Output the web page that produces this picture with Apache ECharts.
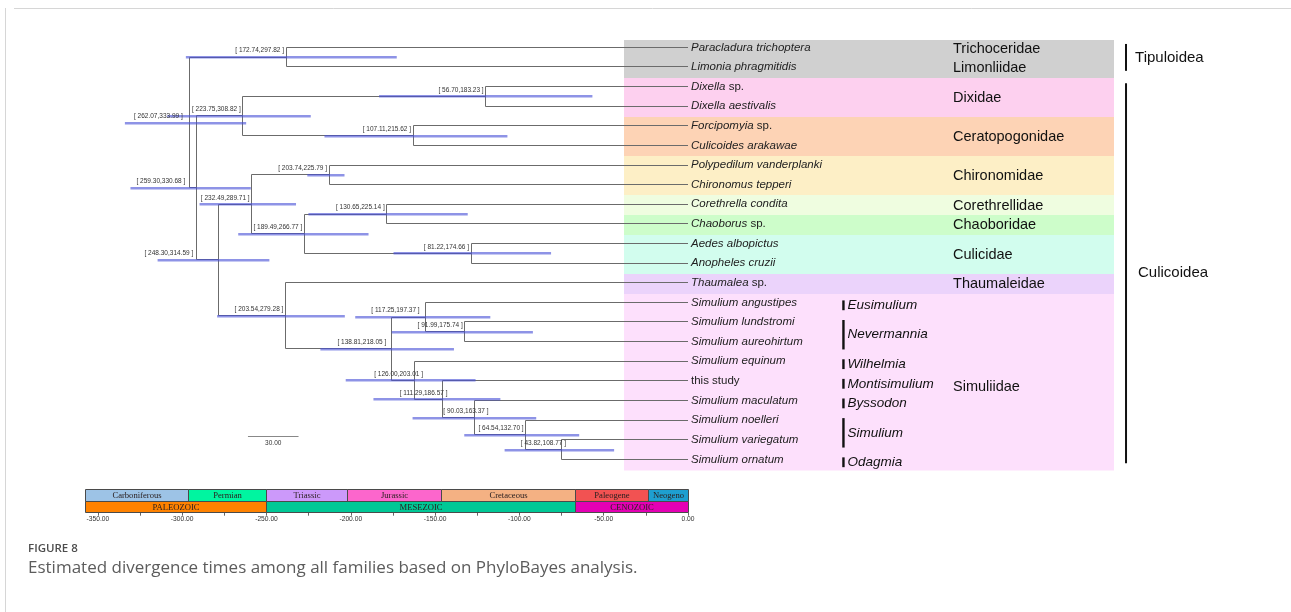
<!DOCTYPE html>
<html>
<head>
<meta charset="utf-8">
<title>Estimated divergence times</title>
<script src="https://cdn.jsdelivr.net/npm/echarts@6.0.0/dist/echarts.min.js"></script>
<style>
html,body{margin:0;padding:0;background:#fff;}
#chart{width:1291px;height:612px;}
</style>
</head>
<body>
<div id="chart"></div>
<script>
// ======================= DATA =======================
// Tips (top to bottom): italic part + plain part
const tipItalic = ['Paracladura trichoptera','Limonia phragmitidis','Dixella','Dixella aestivalis','Forcipomyia',
  'Culicoides arakawae','Polypedilum vanderplanki','Chironomus tepperi','Corethrella condita','Chaoborus',
  'Aedes albopictus','Anopheles cruzii','Thaumalea','Simulium angustipes','Simulium lundstromi',
  'Simulium aureohirtum','Simulium equinum','','Simulium maculatum','Simulium noelleri',
  'Simulium variegatum','Simulium ornatum'];
const tipPlain = ['','',' sp.','',' sp.','','','','',' sp.','','',' sp.','','','','','this study','','','',''];

// Internal nodes: id, mean age (Ma), 95% HPD interval, children
const nodeIds      = ['root','n1','n6','n3','n5','n4','n12','n8','n7','n10','n9','n11','n13','n16','n14','n15','n17','n18','n19','n20','n21'];
const nodeAge      = [295.8, 238.4, 291.4, 264.1, 120.0, 163.1, 278.6, 258.8, 212.9, 227.6, 178.7, 128.7, 238.8, 176.0, 155.6, 132.4, 162.1, 145.5, 126.5, 96.3, 74.9];
const nodeHpdLow   = [262.07,172.74,259.30,223.75,56.70,107.11,248.30,232.49,203.74,189.49,130.65,81.22,203.54,138.81,117.25,91.99,126.00,111.29,90.03,64.54,43.82];
const nodeHpdHigh  = [333.99,297.82,330.68,308.82,183.23,215.62,314.59,289.71,225.79,266.77,225.14,174.66,279.28,218.05,197.37,175.74,203.01,186.57,163.37,132.70,108.77];
const nodeChildren = [['n1','n6'],['t0','t1'],['n3','n12'],['n5','n4'],['t2','t3'],['t4','t5'],['n8','n13'],['n7','n10'],
  ['t6','t7'],['n9','n11'],['t8','t9'],['t10','t11'],['t12','n16'],['n14','n17'],['t13','n15'],['t14','t15'],
  ['t16','n18'],['t17','n19'],['t18','n20'],['t19','n21'],['t20','t21']];

// Families (tip ranges)
const familyNames = ['Trichoceridae','Limonliidae','Dixidae','Ceratopogonidae','Chironomidae','Corethrellidae','Chaoboridae','Culicidae','Thaumaleidae','Simuliidae'];
const familyFirst = [0,1,2,4,6,8,9,10,12,13];
const familyLast  = [0,1,3,5,7,8,9,11,12,21];

// Subgenera of Simulium (tip ranges)
const subgenusNames = ['Eusimulium','Nevermannia','Wilhelmia','Montisimulium','Byssodon','Simulium','Odagmia'];
const subgenusFirst = [13,14,16,17,18,19,21];
const subgenusLast  = [13,15,16,17,18,20,21];

// Superfamilies (tip ranges)
const superNames = ['Tipuloidea','Culicoidea'];
const superFirst = [0,2];
const superLast  = [1,21];

// Geological time scale (Ma, negative = before present)
const periodNames = ['Carboniferous','Permian','Triassic','Jurassic','Cretaceous','Paleogene','Neogeno'];
const periodStart = [-357.5,-296.5,-250,-202,-146.5,-66.5,-23.5];
const periodEnd   = [-296.5,-250,-202,-146.5,-66.5,-23.5,0];
const eraNames  = ['PALEOZOIC','MESEZOIC','CENOZOIC'];
const eraStart  = [-357.5,-250,-66.5];
const eraEnd    = [-250,-66.5,0];
const timeLabelValues = [-350,-300,-250,-200,-150,-100,-50,0];
const timeTickValues  = [-350,-325,-300,-275,-250,-225,-200,-175,-150,-125,-100,-75,-50,-25,0];
const scaleBarLength = 30;

// ======================= STYLE / LAYOUT =======================
const STYLE = {
  branch: '#6b6b6b',
  hpd: 'rgba(72,80,215,0.62)',
  familyColors: ['#d0d0d0','#d0d0d0','#fdd0ef','#fdd3b5','#fdefc6','#effde0','#cdfdca','#d2fdee','#ebd3fb','#fde0fc'],
  periodColors: ['#9dc3e6','#00f5a0','#cc99fa','#fc66cc','#f4b183','#f25252','#1e9fd0'],
  eraColors: ['#ff8200','#00c896','#e400b4']
};
const LAYOUT = {
  xMin: -400, xMax: 355, rowMin: -2, rowMax: 22,
  grid: {left: 13.6, right: 4.47, top: 8.06, bottom: 133.06},
  scaleGrid: {top: 489.3, height: 23.4},
  bandX: [-38, 252.7], bandTopPad: 0.37, bandBottomPad: 0.55,
  tipLabelDx: 3,
  familyLabelX: 157.2, familyLabelDy: 0.08, familyLabelNudge: {Simuliidae: 0.25},
  subgenusBarX: 92.2, subgenusPad: [0.1, 0.4],
  superBarX: 259.8, superPad: [0.17, 0.2], superTextDx: [9, 12],
  nodeLabelDx: -2, nodeLabelDy: -6.5,
  nodeLabelNudge: {root: -4.5, n6: -9.4, n12: -23, n14: -4, n16: -3, n17: 10.3, n18: 6.8, n19: 15.8, n21: 6.3},
  scaleBar: {x: -261, row: 19.85}
};

// ======================= BUILD =======================
const nodeIndex = {};
nodeIds.forEach((id, i) => nodeIndex[id] = i);
function posOf(ref) {
  if (ref[0] === 't') { const i = +ref.slice(1); return [0, i]; }
  const k = nodeIndex[ref];
  const a = posOf(nodeChildren[k][0]), b = posOf(nodeChildren[k][1]);
  return [-nodeAge[k], (a[1] + b[1]) / 2];
}
const treeData = nodeIds.map((id, k) => {
  const p = posOf(id), a = posOf(nodeChildren[k][0]), b = posOf(nodeChildren[k][1]);
  return [p[0], p[1], a[0], a[1], b[0], b[1]];
});
const hpdData = nodeIds.map((id, k) => [-nodeHpdHigh[k], -nodeHpdLow[k], posOf(id)[1]]);
const nodeLabelData = nodeIds.map((id, k) => [-nodeAge[k], posOf(id)[1],
  '[ ' + nodeHpdLow[k].toFixed(2) + ',' + nodeHpdHigh[k].toFixed(2) + ' ]', LAYOUT.nodeLabelNudge[id] || 0]);

// family bands
const bandData = [];
let prevEnd = null;
familyNames.forEach((f, i) => {
  const y0 = prevEnd === null ? familyFirst[i] - LAYOUT.bandTopPad : prevEnd;
  const y1 = familyLast[i] + LAYOUT.bandBottomPad;
  bandData.push([LAYOUT.bandX[0], LAYOUT.bandX[1], y0, y1, i]);
  prevEnd = y1;
});

function crisp(v) { return Math.round(v - 0.5) + 0.5; }

const textStyle = (o) => Object.assign({
  fill: '#222', fontFamily: 'Liberation Sans, Arial, sans-serif', fontSize: 12,
  align: 'left', verticalAlign: 'middle', textAlign: 'left', textVerticalAlign: 'middle'
}, o);

const chart = echarts.init(document.getElementById('chart'), null, {renderer: 'canvas'});

const option = {
  animation: false,
  backgroundColor: '#ffffff',
  title: [
    {text: 'FIGURE 8', left: 28, top: 543, padding: 0,
     textStyle: {fontSize: 11.5, fontWeight: 600, color: '#4d4d4d', fontFamily: 'Open Sans'}},
    {text: 'Estimated divergence times among all families based on PhyloBayes analysis.', left: 28, top: 560, padding: 0,
     textStyle: {fontSize: 17, fontWeight: 'normal', color: '#5c5c5c', fontFamily: 'Open Sans'}}
  ],
  graphic: [
    {type: 'line', shape: {x1: 14, y1: 8.5, x2: 1291, y2: 8.5}, style: {stroke: '#d6d6d6', lineWidth: 1}},
    {type: 'line', shape: {x1: 5.5, y1: 8, x2: 5.5, y2: 612}, style: {stroke: '#d6d6d6', lineWidth: 1}}
  ],
  grid: [
    {left: LAYOUT.grid.left, right: LAYOUT.grid.right, top: LAYOUT.grid.top, bottom: LAYOUT.grid.bottom},
    {left: LAYOUT.grid.left, right: LAYOUT.grid.right, top: LAYOUT.scaleGrid.top, height: LAYOUT.scaleGrid.height}
  ],
  xAxis: [
    {gridIndex: 0, type: 'value', min: LAYOUT.xMin, max: LAYOUT.xMax, show: false},
    {gridIndex: 1, type: 'value', min: LAYOUT.xMin, max: LAYOUT.xMax, position: 'bottom',
     axisLine: {show: false}, splitLine: {show: false},
     axisTick: {show: true, customValues: timeTickValues, length: 3, lineStyle: {color: '#666', width: 1}},
     axisLabel: {show: true, customValues: timeLabelValues, margin: 3, fontSize: 6.7, color: '#333',
       fontFamily: 'Liberation Sans, Arial, sans-serif', formatter: v => Number(v).toFixed(2)}}
  ],
  yAxis: [
    {gridIndex: 0, type: 'value', min: LAYOUT.rowMin, max: LAYOUT.rowMax, inverse: true, show: false},
    {gridIndex: 1, type: 'value', min: 0, max: 2, show: false}
  ],
  series: [
    // family colour bands
    {type: 'custom', xAxisIndex: 0, yAxisIndex: 0, z: 1, silent: true, clip: false,
     data: bandData,
     renderItem: (params, api) => {
       const a = api.coord([api.value(0), api.value(2)]), b = api.coord([api.value(1), api.value(3)]);
       return {type: 'rect', shape: {x: Math.round(a[0]), y: Math.round(a[1]), width: Math.round(b[0]) - Math.round(a[0]), height: Math.round(b[1]) - Math.round(a[1]) + 0.5},
         style: {fill: STYLE.familyColors[api.value(4)]}};
     }},
    // tree branches
    {type: 'custom', xAxisIndex: 0, yAxisIndex: 0, z: 3, silent: true, clip: false,
     data: treeData,
     renderItem: (params, api) => {
       const p = api.coord([api.value(0), api.value(1)]);
       const a = api.coord([api.value(2), api.value(3)]);
       const b = api.coord([api.value(4), api.value(5)]);
       const st = {stroke: STYLE.branch, lineWidth: 1};
       const x = crisp(p[0]);
       return {type: 'group', children: [
         {type: 'line', shape: {x1: x, y1: crisp(a[1]), x2: x, y2: crisp(b[1])}, style: st},
         {type: 'line', shape: {x1: x, y1: crisp(a[1]), x2: a[0], y2: crisp(a[1])}, style: st},
         {type: 'line', shape: {x1: x, y1: crisp(b[1]), x2: b[0], y2: crisp(b[1])}, style: st}
       ]};
     }},
    // HPD bars
    {type: 'custom', xAxisIndex: 0, yAxisIndex: 0, z: 4, silent: true, clip: false,
     data: hpdData,
     renderItem: (params, api) => {
       const a = api.coord([api.value(0), api.value(2)]), b = api.coord([api.value(1), api.value(2)]);
       return {type: 'rect', shape: {x: a[0], y: Math.round(a[1]) - 1, width: b[0] - a[0], height: 2.6},
         style: {fill: STYLE.hpd}};
     }},
    // node HPD labels
    {type: 'custom', xAxisIndex: 0, yAxisIndex: 0, z: 5, silent: true, clip: false,
     data: nodeLabelData,
     renderItem: (params, api) => {
       const d = nodeLabelData[params.dataIndex];
       const p = api.coord([d[0], d[1]]);
       return {type: 'text', x: p[0] + LAYOUT.nodeLabelDx + d[3], y: p[1] + LAYOUT.nodeLabelDy,
         style: textStyle({text: d[2], fontSize: 6.5, fill: '#333', align: 'right', textAlign: 'right'})};
     }},
    // tip labels
    {type: 'custom', xAxisIndex: 0, yAxisIndex: 0, z: 5, silent: true, clip: false,
     data: tipItalic.map((t, i) => [0, i]),
     renderItem: (params, api) => {
       const i = params.dataIndex;
       const p = api.coord([api.value(0), api.value(1)]);
       let txt = '';
       if (tipItalic[i]) txt += '{i|' + tipItalic[i] + '}';
       if (tipPlain[i]) txt += '{n|' + tipPlain[i] + '}';
       return {type: 'text', x: p[0] + LAYOUT.tipLabelDx, y: p[1],
         style: textStyle({text: txt, fontSize: 11.5, fill: '#222',
           rich: {i: {fontStyle: 'italic', fontSize: 11.5, fill: '#222', color: '#222', fontFamily: 'Liberation Sans, Arial, sans-serif'},
                  n: {fontStyle: 'normal', fontSize: 11.5, fill: '#222', color: '#222', fontFamily: 'Liberation Sans, Arial, sans-serif'}}})};
     }},
    // family labels
    {type: 'custom', xAxisIndex: 0, yAxisIndex: 0, z: 5, silent: true, clip: false,
     data: familyNames.map((f, i) => [LAYOUT.familyLabelX,
       (familyFirst[i] + familyLast[i]) / 2 + LAYOUT.familyLabelDy + (LAYOUT.familyLabelNudge[f] || 0)]),
     renderItem: (params, api) => {
       const p = api.coord([api.value(0), api.value(1)]);
       return {type: 'text', x: p[0], y: p[1],
         style: textStyle({text: familyNames[params.dataIndex], fontSize: 14.5, fill: '#111'})};
     }},
    // subgenus bars and labels
    {type: 'custom', xAxisIndex: 0, yAxisIndex: 0, z: 5, silent: true, clip: false,
     data: subgenusNames.map((s, i) => [LAYOUT.subgenusBarX, subgenusFirst[i] - LAYOUT.subgenusPad[0], subgenusLast[i] + LAYOUT.subgenusPad[1]]),
     renderItem: (params, api) => {
       const a = api.coord([api.value(0), api.value(1)]), b = api.coord([api.value(0), api.value(2)]);
       return {type: 'group', children: [
         {type: 'rect', shape: {x: a[0] - 1.2, y: a[1], width: 2.4, height: b[1] - a[1]}, style: {fill: '#111'}},
         {type: 'text', x: a[0] + 4, y: (a[1] + b[1]) / 2,
          style: textStyle({text: subgenusNames[params.dataIndex], fontSize: 13.5, fontStyle: 'italic', fill: '#111'})}
       ]};
     }},
    // superfamily bars and labels
    {type: 'custom', xAxisIndex: 0, yAxisIndex: 0, z: 5, silent: true, clip: false,
     data: superNames.map((s, i) => [LAYOUT.superBarX, superFirst[i] - LAYOUT.superPad[0], superLast[i] + LAYOUT.superPad[1]]),
     renderItem: (params, api) => {
       const a = api.coord([api.value(0), api.value(1)]), b = api.coord([api.value(0), api.value(2)]);
       return {type: 'group', children: [
         {type: 'rect', shape: {x: a[0] - 1, y: a[1], width: 2, height: b[1] - a[1]}, style: {fill: '#111'}},
         {type: 'text', x: a[0] + LAYOUT.superTextDx[params.dataIndex], y: (a[1] + b[1]) / 2,
          style: textStyle({text: superNames[params.dataIndex], fontSize: 15, fill: '#111'})}
       ]};
     }},
    // scale bar
    {type: 'custom', xAxisIndex: 0, yAxisIndex: 0, z: 5, silent: true, clip: false,
     data: [[LAYOUT.scaleBar.x, LAYOUT.scaleBar.x + scaleBarLength, LAYOUT.scaleBar.row]],
     renderItem: (params, api) => {
       const a = api.coord([api.value(0), api.value(2)]), b = api.coord([api.value(1), api.value(2)]);
       return {type: 'group', children: [
         {type: 'line', shape: {x1: a[0], y1: crisp(a[1]), x2: b[0], y2: crisp(a[1])}, style: {stroke: '#888', lineWidth: 1}},
         {type: 'text', x: (a[0] + b[0]) / 2, y: a[1] + 6,
          style: textStyle({text: scaleBarLength.toFixed(2), fontSize: 6.5, fill: '#333', align: 'center', textAlign: 'center'})}
       ]};
     }},
    // geological periods and eras
    {type: 'custom', xAxisIndex: 1, yAxisIndex: 1, z: 5, silent: true, clip: false,
     data: periodNames.map((n, i) => [periodStart[i], periodEnd[i], 1, 2, 0, i])
       .concat(eraNames.map((n, i) => [eraStart[i], eraEnd[i], 0, 1, 1, i])),
     renderItem: (params, api) => {
       const a = api.coord([api.value(0), api.value(3)]), b = api.coord([api.value(1), api.value(2)]);
       const isEra = api.value(4) === 1, k = api.value(5);
       const name = isEra ? eraNames[k] : periodNames[k];
       const fill = isEra ? STYLE.eraColors[k] : STYLE.periodColors[k];
       const x0 = crisp(a[0]), x1 = crisp(b[0]), y0 = crisp(a[1]), y1 = crisp(b[1]);
       return {type: 'group', children: [
         {type: 'rect', shape: {x: x0, y: y0, width: x1 - x0, height: y1 - y0}, style: {fill: fill, stroke: '#4a4a4a', lineWidth: 1}},
         {type: 'text', x: (x0 + x1) / 2, y: (y0 + y1) / 2 + 0.5,
          style: textStyle({text: name, fontSize: 8.6, fill: '#2b2020', fontFamily: 'Liberation Serif, Times New Roman, serif', align: 'center', textAlign: 'center'})}
       ]};
     }}
  ]
};
chart.setOption(option);
</script>
</body>
</html>
